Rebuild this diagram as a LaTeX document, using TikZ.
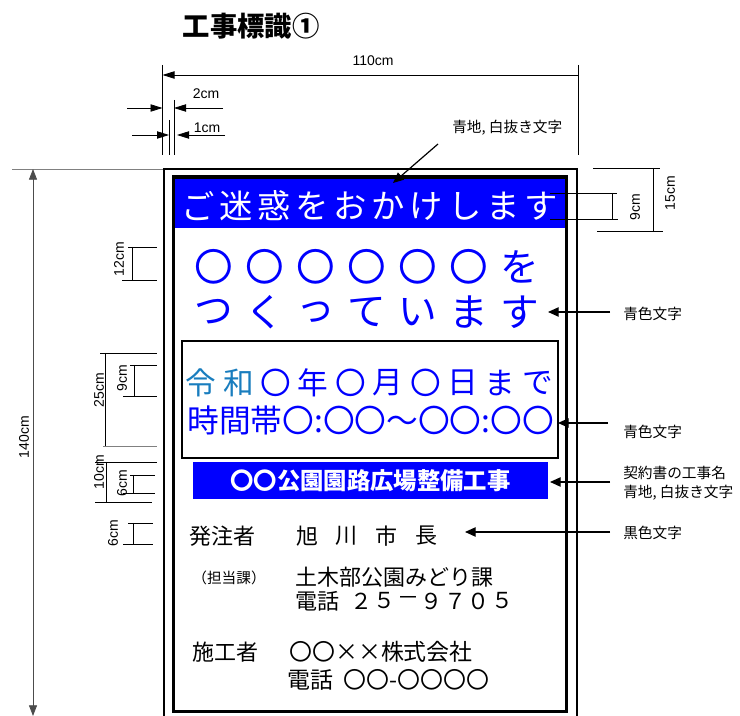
\documentclass[tikz,border=0pt]{standalone}
\usepackage{fontspec}
\setmainfont{Liberation Sans}
\newfontfamily\jp{Noto Sans CJK JP}
\usetikzlibrary{arrows.meta}
\definecolor{signblue}{RGB}{0,0,255}
\definecolor{erablue}{RGB}{25,125,190}
\newcommand{\fsz}[1]{\fontsize{#1}{#1}\selectfont}

\begin{document}
\begin{tikzpicture}[x=0.75pt,y=-0.75pt,
  dimtext/.style={font=\fsz{10.5pt}, inner sep=0pt},
  dimline/.style={line width=0.6pt},
  dimarrow/.style={line width=0.6pt, -{Triangle[length=9pt,width=5.5pt]}},
  pointer/.style={line width=0.9pt, -{Triangle[length=8pt,width=7pt]}},
  note/.style={font=\jp\fsz{11pt}, anchor=west, inner sep=0pt, align=left},
  hdtext/.style={font=\jp\fsz{25pt}, text=white, inner sep=0pt},
  bigtext/.style={font=\jp\fsz{29pt}, text=signblue, inner sep=0pt},
  datetext/.style={font=\jp\fsz{23pt}, text=signblue, inner sep=0pt},
  blacktext/.style={font=\jp\fsz{16.5pt}, inner sep=0pt, anchor=west}]
\useasboundingbox (0,0) rectangle (740,716);
% Titre
\node[font=\jp\bfseries\fsz{20.5pt}, inner sep=0pt] (title) at (251,26) {工事標識①};
% Cotes du haut
\draw[dimline] (162.5,65) -- (162.5,155);
\draw[dimline] (578,65) -- (578,155);
\draw[dimline] (169,120) -- (169,155);
\draw[dimline] (174,100) -- (174,155);
\draw[dimarrow, {Triangle[length=9pt,width=5.5pt]}-] (162.5,75) -- (578,75);
\node[dimtext] (w110) at (373,61) {110cm};
\draw[dimarrow] (127,108) -- (162.5,108);
\draw[dimarrow] (223,108) -- (174,108);
\node[dimtext] (w2) at (206,94) {2cm};
\draw[dimarrow] (132,135) -- (169,135);
\draw[dimarrow] (225,135) -- (177,135);
\node[dimtext] (w1) at (207,128) {1cm};
% Hauteur totale
\draw[dimline, gray] (12,169) -- (164,169);
\draw[dimarrow, gray!60!black, {Triangle[length=8pt,width=6pt]}-{Triangle[length=8pt,width=6pt]}] (33,169) -- (33,716);
\node[dimtext, rotate=90] (h140) at (24,437) {140cm};
% Cotes a gauche
\draw[dimline] (128,247) -- (157,247);
\draw[dimline] (122,280) -- (157,280);
\draw[dimline] (132,247) -- (132,280);
\node[dimtext, rotate=90] (h12) at (119,259) {12cm};
\draw[dimline] (100,353) -- (157,353);
\draw[dimline, gray] (103,446) -- (157,446);
\draw[dimline] (105,353) -- (105,446);
\node[dimtext, rotate=90] (h25) at (99,390) {25cm};
\draw[dimline] (130,365) -- (157,365);
\draw[dimline] (123,396) -- (157,396);
\draw[dimline] (134,365) -- (134,396);
\node[dimtext, rotate=90] (h9a) at (122,378) {9cm};
\draw[dimline] (95,462) -- (157,462);
\draw[dimline] (95,502) -- (152,502);
\draw[dimline] (106,462) -- (106,502);
\node[dimtext, rotate=90] (h10) at (99,472) {10cm};
\draw[dimline] (130,475) -- (155,475);
\draw[dimline] (123,493) -- (155,493);
\draw[dimline] (133,475) -- (133,493);
\node[dimtext, rotate=90] (h6a) at (122,483) {6cm};
\draw[dimline] (128,523) -- (153,523);
\draw[dimline] (123,544) -- (153,544);
\draw[dimline] (133,523) -- (133,544);
\node[dimtext, rotate=90] (h6b) at (113,533) {6cm};
% Cotes a droite
\draw[dimline] (593,168) -- (660,168);
\draw[dimline] (597,231) -- (663,231);
\draw[dimline] (653,168) -- (653,231);
\node[dimtext, rotate=90] (h15) at (670,193) {15cm};
% Panneau
\draw[line width=1.6pt] (164,720) -- (164,169) -- (577,169) -- (577,720);
\fill[signblue] (175,178.5) rectangle (565,228);
\draw[line width=2.6pt] (173.5,177) rectangle (566.5,711.5);
\draw[dimline] (550,193) -- (617,193);
\draw[dimline] (550,219) -- (618,219);
\draw[dimline] (612,193) -- (612,219);
\node[dimtext, rotate=90] (h9b) at (635,207) {9cm};
% Bandeau
\foreach \c [count=\i from 0] in {ご,迷,惑,を,お,か,け,し,ま,す}
  \node[hdtext] (hd\i) at (198+\i*38.1,206) {\c};
% Texte bleu
\foreach \c [count=\i from 0] in {〇,〇,〇,〇,〇,〇,を}
  \node[bigtext] (ta\i) at (214+\i*51,267) {\c};
\foreach \c [count=\i from 0] in {つ,く,っ,て,い,ま,す}
  \node[bigtext] (tb\i) at (214+\i*51,312) {\c};
% Delai
\draw[line width=1.8pt] (182,341) rectangle (558,458);
\node[datetext, text=erablue] (da0) at (201,383) {令};
\node[datetext, text=erablue] (da1) at (238.4,383) {和};
\foreach \c [count=\i from 2] in {〇,年,〇,月,〇,日,ま,で}
  \node[datetext] (da\i) at (201+\i*37.4,383) {\c};
\node[datetext, anchor=west, font=\jp\fsz{23.8pt}] (time) at (187,420) {時間帯〇:〇〇～〇〇:〇〇};
% Nom des travaux
\node[fill=signblue, minimum width=266pt, minimum height=28pt, inner sep=0pt,
  text=white, font=\jp\bfseries\fsz{17.5pt}] (work) at (370.5,480.5) {〇〇公園園路広場整備工事};
% Texte noir
\node[blacktext] (hat) at (189,536) {発注者};
\foreach \c [count=\i from 0] in {旭,川,市,長}
  \node[blacktext, anchor=center] (ci\i) at (307+\i*39.7,536) {\c};
\node[font=\jp\fsz{11pt}, inner sep=0pt] (tan) at (229,578) {（担当課）};
\node[blacktext] (dep) at (295,577) {土木部公園みどり課};
\node[blacktext] (tel1) at (295,601) {電話};
\foreach \c [count=\i from 0] in {２,５,－,９,７,０,５}
  \node[blacktext, anchor=center] (tn\i) at (361+\i*23.5,601) {\c};
\node[blacktext] (seko) at (192,652) {施工者};
\node[blacktext, font=\jp\fsz{17.2pt}] (comp) at (289,652) {〇〇××株式会社};
\node[blacktext, font=\jp\fsz{17.2pt}] (tel2) at (287,680) {電話\hspace{8pt}〇〇-〇〇〇〇};
% Notes
\node[note] (n0) at (452,128) {青地, 白抜き文字};
\draw[pointer] (438,144) -- (393,183);
\node[note] (n1) at (623,314) {青色文字};
\draw[pointer] (610,312) -- (548,312);
\node[note] (n2) at (623,432) {青色文字};
\draw[pointer] (608,423) -- (558,423);
\node[note] (n3) at (623,473) {契約書の工事名};
\node[note] (n4) at (623,493) {青地, 白抜き文字};
\draw[pointer] (610,482) -- (550,482);
\node[note] (n5) at (623,533) {黒色文字};
\draw[pointer] (610,532) -- (465,532);
\end{tikzpicture}
\end{document}
